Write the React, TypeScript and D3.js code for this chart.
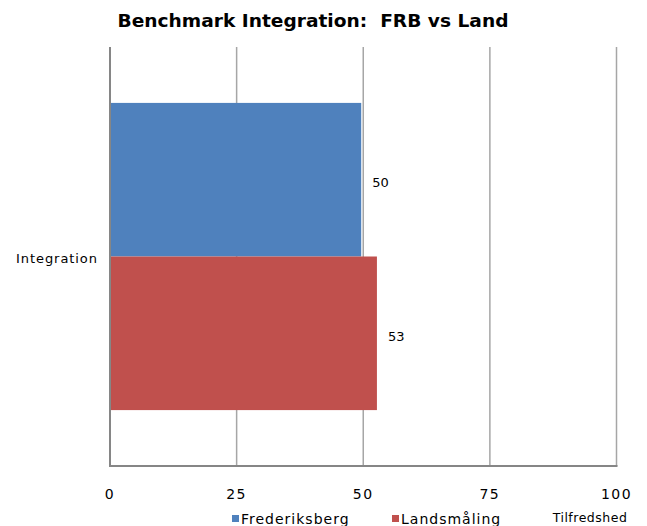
import React from 'react';
import * as d3 from 'd3';

const categories = ['Integration'];
const seriesNames = ['Frederiksberg', 'Landsmåling'];
const seriesValues = [49.6, 52.7];
const valueLabels = ['50', '53'];
const xTicks = [0, 25, 50, 75, 100];
const colors = ['#4F81BD', '#C0504D'];

const W = 647, H = 526;
const left = 110, right = 616.5, top = 47, bottom = 466;

export default function App() {
  const x = d3.scaleLinear().domain([0, 100]).range([left, right]);
  const y = d3.scaleBand().domain(categories).range([top, bottom]).paddingInner(0).paddingOuter(0.182);
  const ys = d3.scaleBand().domain(seriesNames).range([0, y.bandwidth()]).padding(0);
  const font = '"DejaVu Sans", Verdana, sans-serif';
  return (
    <svg width={W} height={H} style={{ position: 'absolute', left: 0, top: 0, background: '#fff' }} fontFamily={font}>
      <text x={313} y={27} textAnchor="middle" fontSize={17} fontWeight="bold" textLength={391} lengthAdjust="spacingAndGlyphs" fill="#000" style={{ whiteSpace: 'pre' }}>
        {'Benchmark Integration:  FRB vs Land'}
      </text>
      {xTicks.slice(1).map(t => (
        <line key={t} x1={x(t)} x2={x(t)} y1={top} y2={bottom} stroke="#A6A6A6" strokeWidth={1.5} />
      ))}
      {categories.map(c => (
        <g key={c}>
          {seriesNames.map((s, i) => (
            <g key={s}>
              <rect x={x(0)} y={(y(c) as number) + (ys(s) as number)} width={x(seriesValues[i]) - x(0)} height={ys.bandwidth()} fill={colors[i]} />
              <text x={x(seriesValues[i]) + 11} y={(y(c) as number) + (ys(s) as number) + ys.bandwidth() * 0.55} fontSize={13} fill="#000">{valueLabels[i]}</text>
            </g>
          ))}
          <text x={97} y={(y(c) as number) + y.bandwidth() / 2 + 6} textAnchor="end" fontSize={13} textLength={81} lengthAdjust="spacing" fill="#000">{c}</text>
        </g>
      ))}
      <line x1={left} x2={left} y1={top} y2={bottom + 1} stroke="#868686" strokeWidth={2} />
      <line x1={left - 1} x2={right + 1} y1={bottom} y2={bottom} stroke="#868686" strokeWidth={2} />
      {xTicks.map(t => (
        <text key={t} x={x(t)} y={499} textAnchor="middle" fontSize={14} letterSpacing={1.5} fill="#000">{t}</text>
      ))}
      {seriesNames.map((s, i) => {
        const lx = [232, 392][i];
        return (
          <g key={s}>
            <rect x={lx} y={515} width={7} height={7} fill={colors[i]} />
            <text x={lx + 9} y={524} fontSize={14} letterSpacing={1} fill="#000">{s}</text>
          </g>
        );
      })}
      <text x={590} y={522} textAnchor="middle" fontSize={12.5} letterSpacing={0.5} fill="#000">Tilfredshed</text>
    </svg>
  );
}
